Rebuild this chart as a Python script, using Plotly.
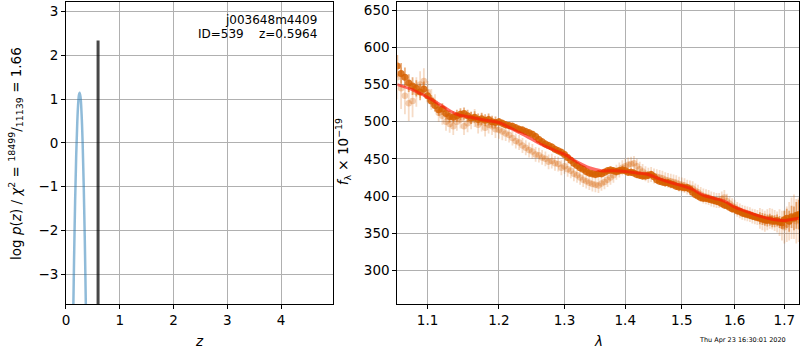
import plotly.graph_objects as go

# ---------------- data ----------------
# left panel: log p(z)
pz_z = [0.130, 0.137, 0.150, 0.170, 0.190, 0.210, 0.230, 0.240, 0.253, 0.270, 0.290, 0.310, 0.330, 0.350, 0.370, 0.380]
pz_logp = [-4.30, -3.70, -2.67, -1.33, -0.28, 0.48, 0.96, 1.09, 1.15, 1.05, 0.66, -0.02, -0.99, -2.24, -3.79, -4.60]
zbest_z = [0.5964, 0.5964]
zbest_logp = [-4.0, 2.34]

# right panel: spectra on a common wavelength grid (microns)
wave = [
    1.060, 1.065, 1.070, 1.075, 1.080, 1.085, 1.090, 1.095, 1.100, 1.105,
    1.110, 1.115, 1.120, 1.125, 1.130, 1.135, 1.140, 1.145, 1.150, 1.155,
    1.160, 1.165, 1.170, 1.175, 1.180, 1.185, 1.190, 1.195, 1.200, 1.205,
    1.210, 1.215, 1.220, 1.225, 1.230, 1.235, 1.240, 1.245, 1.250, 1.255,
    1.260, 1.265, 1.270, 1.275, 1.280, 1.285, 1.290, 1.295, 1.300, 1.305,
    1.310, 1.315, 1.320, 1.325, 1.330, 1.335, 1.340, 1.345, 1.350, 1.355,
    1.360, 1.365, 1.370, 1.375, 1.380, 1.385, 1.390, 1.395, 1.400, 1.405,
    1.410, 1.415, 1.420, 1.425, 1.430, 1.435, 1.440, 1.445, 1.450, 1.455,
    1.460, 1.465, 1.470, 1.475, 1.480, 1.485, 1.490, 1.495, 1.500, 1.505,
    1.510, 1.515, 1.520, 1.525, 1.530, 1.535, 1.540, 1.545, 1.550, 1.555,
    1.560, 1.565, 1.570, 1.575, 1.580, 1.585, 1.590, 1.595, 1.600, 1.605,
    1.610, 1.615, 1.620, 1.625, 1.630, 1.635, 1.640, 1.645, 1.650, 1.655,
    1.660, 1.665, 1.670, 1.675, 1.680, 1.685, 1.690, 1.695, 1.700, 1.705,
    1.710, 1.715, 1.720, 1.725, 1.730]

# darker PA
dark_flux = [
    575, 565, 560, 552, 548, 545, 540, 544, 535, 528,
    522, 516, 517, 511, 507, 506, 508, 510, 511, 508,
    505, 506, 503, 504, 502, 503, 500, 499, 500, 498,
    496, 495, 494, 492, 490, 489, 487, 485, 483, 480,
    476, 473, 470, 468, 466, 463, 461, 459, 456, 452,
    448, 444, 441, 438, 436, 433, 431, 430, 429, 430,
    430, 432, 434, 435, 434, 433, 434, 435, 434, 432,
    432, 431, 429, 428, 427, 427, 428, 429, 426, 422,
    420, 419, 418, 418, 416, 415, 413, 412, 412, 411,
    411, 409, 405, 402, 400, 398, 397, 397, 396, 395,
    394, 393, 392, 390, 388, 387, 385, 383, 382, 380,
    379, 377, 376, 375, 374, 373, 372, 371, 370, 369,
    368, 367, 368, 366, 366, 367, 365, 364, 368, 370,
    366, 372, 370, 374, 375]
dark_err = [
    15, 14, 13, 12, 12, 11, 11, 10, 8, 8,
    8, 8, 8, 8, 8, 8, 8, 8, 8, 8,
    8, 8, 8, 8, 8, 8, 8, 8, 5, 5,
    5, 5, 5, 5, 5, 5, 5, 5, 5, 5,
    5, 5, 5, 5, 5, 5, 5, 5, 5, 5,
    5, 5, 5, 5, 5, 5, 5, 5, 5, 5,
    5, 5, 5, 5, 5, 5, 5, 5, 5, 5,
    5, 5, 5, 5, 5, 5, 5, 5, 5, 5,
    5, 5, 5, 5, 5, 5, 5, 5, 5, 5,
    5, 5, 5, 5, 5, 5, 5, 5, 5, 5,
    5, 5, 5, 5, 5, 5, 5, 5, 5, 5,
    5, 5, 5, 5, 5, 5, 5, 5, 8, 8,
    8, 8, 8, 8, 8, 8, 8, 8, 12, 13,
    14, 15, 16, 18, 20]

# lighter PA
light_flux = [
    560, 545, 535, 525, 528, 540, 550, 555, 540, 530,
    525, 512, 508, 500, 497, 494, 500, 503, 494, 498,
    502, 505, 496, 499, 492, 496, 494, 490, 489, 487,
    484, 482, 478, 474, 472, 468, 465, 462, 460, 456,
    455, 452, 450, 446, 447, 444, 443, 438, 440, 436,
    434, 430, 428, 425, 422, 420, 418, 416, 415, 414,
    417, 419, 422, 425, 428, 432, 435, 438, 440, 442,
    443, 444, 440, 436, 433, 430, 428, 429, 427, 426,
    425, 424, 422, 421, 420, 419, 418, 416, 415, 414,
    412, 411, 410, 407, 405, 402, 400, 399, 398, 396,
    395, 394, 394, 396, 398, 393, 390, 387, 385, 382,
    380, 378, 377, 376, 375, 373, 372, 371, 370, 368,
    366, 368, 370, 369, 367, 365, 364, 360, 358, 362,
    366, 370, 372, 366, 368]
light_err = [
    30, 28, 25, 24, 22, 20, 18, 17, 15, 14,
    12, 12, 12, 12, 12, 12, 12, 12, 12, 12,
    12, 12, 12, 12, 12, 12, 12, 12, 12, 12,
    10, 10, 10, 10, 10, 10, 10, 10, 10, 10,
    10, 10, 10, 10, 10, 10, 10, 10, 10, 10,
    10, 10, 10, 10, 10, 10, 10, 10, 10, 10,
    10, 10, 10, 10, 10, 10, 10, 10, 10, 10,
    10, 10, 10, 10, 10, 10, 10, 10, 10, 10,
    10, 10, 10, 10, 10, 10, 10, 10, 10, 10,
    10, 10, 10, 10, 10, 10, 10, 10, 10, 10,
    10, 10, 10, 10, 10, 10, 10, 10, 10, 10,
    10, 10, 10, 10, 10, 10, 10, 10, 14, 14,
    14, 14, 14, 14, 14, 14, 18, 20, 22, 24,
    26, 28, 30, 30, 30]

# model
model_wave = [1.06, 1.08, 1.10, 1.12, 1.14, 1.16, 1.18, 1.20, 1.22, 1.24, 1.26, 1.28,
              1.30, 1.32, 1.34, 1.36, 1.38, 1.40, 1.42, 1.44, 1.46, 1.48, 1.50, 1.52,
              1.54, 1.56, 1.58, 1.60, 1.62, 1.64, 1.66, 1.68, 1.70, 1.72, 1.73]
model_flux = [550, 543, 533, 521, 510, 506, 502, 499, 490, 481, 471, 463,
              456, 446, 438, 434, 434, 433, 431, 429, 423, 418, 414, 409,
              401, 397, 393, 385, 380, 375, 371, 368, 367, 369, 370]

lam_ticks = [1.1, 1.2, 1.3, 1.4, 1.5, 1.6, 1.7]

# ---------------- figure ----------------
W, H = 800, 350
FONT = "DejaVu Sans"
fig = go.Figure()

fig.add_trace(go.Scatter(x=pz_z, y=pz_logp, mode="lines", xaxis="x", yaxis="y",
                         line=dict(color="rgba(31,119,180,0.5)", width=2.5, shape="spline"),
                         showlegend=False, hoverinfo="skip"))
fig.add_trace(go.Scatter(x=zbest_z, y=zbest_logp, mode="lines", xaxis="x", yaxis="y",
                         line=dict(color="rgba(0,0,0,0.72)", width=3),
                         showlegend=False, hoverinfo="skip"))

orange = (214, 96, 0)
fig.add_trace(go.Scatter(x=wave, y=light_flux, mode="markers", xaxis="x2", yaxis="y2",
                         marker=dict(color="rgba(%d,%d,%d,0.3)" % orange, size=6.5, line=dict(width=0)),
                         error_y=dict(type="data", array=light_err, color="rgba(%d,%d,%d,0.22)" % orange,
                                      thickness=1.8, width=0),
                         showlegend=False, hoverinfo="skip"))
fig.add_trace(go.Scatter(x=wave, y=dark_flux, mode="markers", xaxis="x2", yaxis="y2",
                         marker=dict(color="rgba(%d,%d,%d,0.85)" % orange, size=7, line=dict(width=0)),
                         error_y=dict(type="data", array=dark_err, color="rgba(%d,%d,%d,0.5)" % orange,
                                      thickness=1.8, width=0),
                         showlegend=False, hoverinfo="skip"))
fig.add_trace(go.Scatter(x=model_wave, y=model_flux, mode="lines", xaxis="x2", yaxis="y2",
                         line=dict(color="rgba(255,20,10,0.62)", width=3, shape="spline"),
                         showlegend=False, hoverinfo="skip"))

def px(x):
    return x / W

def py(y):
    return 1 - y / H

axis_common = dict(showgrid=True, gridcolor="#b0b0b0", gridwidth=1, zeroline=False,
                   showline=True, linecolor="black", linewidth=1, mirror=True,
                   ticks="outside", ticklen=4, tickcolor="black", tickwidth=1,
                   tickfont=dict(family=FONT, size=13.5, color="black"))

fig.update_layout(
    width=W, height=H, margin=dict(l=0, r=0, t=0, b=0),
    paper_bgcolor="white", plot_bgcolor="white",
    font=dict(family=FONT, size=13.5, color="black"),
    xaxis=dict(domain=[px(62.3), px(331)], range=[0, 4.97], tickvals=[0, 1, 2, 3, 4],
               anchor="y", **axis_common),
    yaxis=dict(domain=[py(304), py(1.7)], range=[-3.68, 3.228], tickvals=[-3, -2, -1, 0, 1, 2, 3],
               ticktext=["\u22123", "\u22122", "\u22121", "0", "1", "2", "3"],
               anchor="x", **axis_common),
    xaxis2=dict(domain=[px(395.3), px(799.3)], type="log",
                range=[0.02535, 0.23837], tickvals=lam_ticks,
                ticktext=[str(t) for t in lam_ticks], anchor="y2", **axis_common),
    yaxis2=dict(domain=[py(304), py(1.7)], range=[254.6, 661.6],
                tickvals=[300, 350, 400, 450, 500, 550, 600, 650], anchor="x2", **axis_common),
)

ann = [
    dict(x=px(196.6), y=py(341), text="<i>z</i>", showarrow=False, xanchor="center", yanchor="middle",
         font=dict(family=FONT, size=13.5)),
    dict(x=px(597.3), y=py(341), text="<i>λ</i>", showarrow=False, xanchor="center", yanchor="middle",
         font=dict(family=FONT, size=13.5)),
    dict(x=px(12), y=py(153), textangle=-90, showarrow=False, xanchor="center", yanchor="middle",
         text="log <i>p</i>(<i>z</i>) / <i>χ</i><sup>2</sup> = <sup>18499</sup>/<sub>11139</sub> = 1.66",
         font=dict(family=FONT, size=13.5)),
    dict(x=px(341), y=py(152), textangle=-90, showarrow=False, xanchor="center", yanchor="middle",
         text="<i>f</i><sub>λ</sub> × 10<sup>−19</sup>",
         font=dict(family=FONT, size=13.5)),
    dict(x=px(317), y=py(20), text="j003648m4409", showarrow=False, xanchor="right", yanchor="middle",
         font=dict(family=FONT, size=12)),
    dict(x=px(317), y=py(34.3), text="ID=539    z=0.5964", showarrow=False, xanchor="right", yanchor="middle",
         font=dict(family=FONT, size=12)),
    dict(x=px(788), y=py(339.5), text="Thu Apr 23 16:30:01 2020", showarrow=False, xanchor="right",
         yanchor="middle", font=dict(family=FONT, size=6.5)),
]
for a in ann:
    a["xref"] = "paper"
    a["yref"] = "paper"
fig.update_layout(annotations=ann)

fig.write_html("out.html", config={"displayModeBar": False},
               post_script="document.body.style.margin='0';document.body.style.overflow='hidden';")
